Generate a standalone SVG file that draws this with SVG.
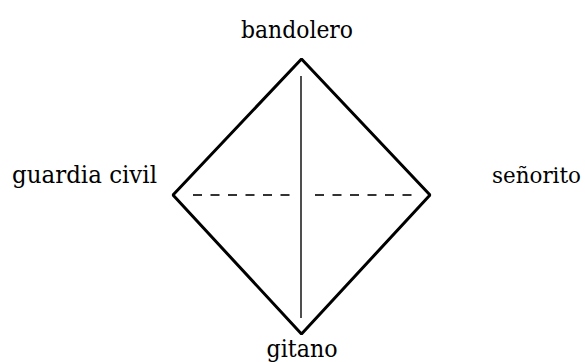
<svg xmlns="http://www.w3.org/2000/svg" width="585" height="362" viewBox="0 0 585 362">
<style>
.edge{fill:none;stroke:#000;stroke-width:3;stroke-linejoin:bevel}
.axis{stroke:#222;stroke-width:1.6}
.dash{stroke:#333;stroke-width:2;stroke-dasharray:9 8.5}
</style>
<rect width="585" height="362" fill="#fff"/>
<g id="connectors">
<polygon class="edge" points="301.5,59 430,195 301.5,334 173,195"/>
<line class="axis" x1="301" y1="76" x2="301" y2="318"/>
<line class="dash" x1="193" y1="195" x2="290" y2="195"/>
<line class="dash" x1="315" y1="195" x2="412" y2="195"/>
</g>
<g font-family="DejaVu Serif, serif" font-size="24" fill="#000">
<g id="bandolero"><text x="297" y="38" text-anchor="middle" textLength="112" lengthAdjust="spacingAndGlyphs">bandolero</text></g>
<g id="guardia-civil"><text x="12" y="183" textLength="145" lengthAdjust="spacingAndGlyphs">guardia civil</text></g>
<g id="senorito"><text x="492" y="183" font-size="21.5" textLength="89" lengthAdjust="spacingAndGlyphs">señorito</text></g>
<g id="gitano"><text x="302" y="357" text-anchor="middle" textLength="71" lengthAdjust="spacingAndGlyphs">gitano</text></g>
</g>
</svg>
